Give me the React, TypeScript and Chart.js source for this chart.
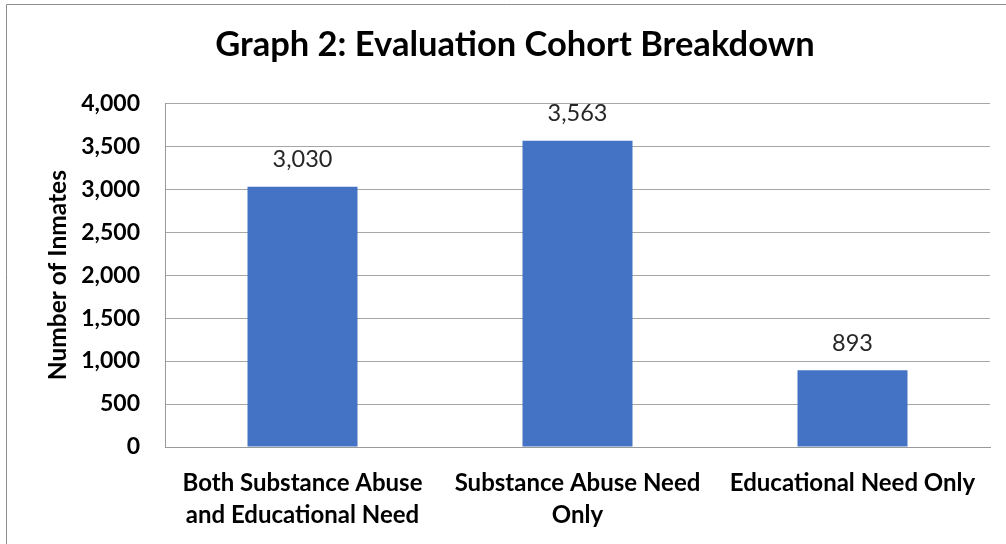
import React, { useEffect, useRef } from "react";
import { Chart, registerables } from "chart.js";

Chart.register(...registerables);

// Cohort categories (wrapped onto lines as shown under each bar)
const categories: string[][] = [
  ["Both Substance Abuse", "and Educational Need"],
  ["Substance Abuse Need", "Only"],
  ["Educational Need Only"],
];
// Number of inmates in each cohort
const inmates: number[] = [3030, 3563, 893];
// Value axis range
const yMin = 0;
const yMax = 4000;
const yStep = 500;

const titleText = "Graph 2: Evaluation Cohort Breakdown";
const yAxisTitle = "Number of Inmates";

const FONT = "Lato, 'Open Sans', sans-serif";
const fmt = (v: number) => v.toLocaleString("en-US");

// Thin grey frame around the chart object
const framePlugin = {
  id: "frame",
  beforeDraw(chart: any) {
    const { ctx, width, height } = chart;
    ctx.save();
    ctx.strokeStyle = "#8c8c8c";
    ctx.lineWidth = 1;
    ctx.beginPath();
    ctx.moveTo(6.5, height);
    ctx.lineTo(6.5, 4.5);
    ctx.lineTo(width, 4.5);
    ctx.stroke();
    ctx.restore();
  },
};

// Value labels above each bar
const valueLabelPlugin = {
  id: "valueLabels",
  afterDatasetsDraw(chart: any) {
    const { ctx } = chart;
    const meta = chart.getDatasetMeta(0);
    const data = chart.data.datasets[0].data as number[];
    ctx.save();
    ctx.font = `23.5px ${FONT}`;
    ctx.fillStyle = "#262626";
    ctx.textAlign = "center";
    ctx.textBaseline = "middle";
    meta.data.forEach((bar: any, i: number) => {
      ctx.fillText(fmt(data[i]), bar.x, bar.y - 27);
    });
    ctx.restore();
  },
};

export default function App() {
  const canvasRef = useRef<HTMLCanvasElement | null>(null);

  useEffect(() => {
    if (!canvasRef.current) return;
    const chart = new Chart(canvasRef.current, {
      type: "bar",
      data: {
        labels: categories,
        datasets: [
          {
            data: inmates,
            backgroundColor: "#4472C4",
            borderWidth: 0,
            categoryPercentage: 1,
            barPercentage: 0.4,
          },
        ],
      },
      options: {
        responsive: false,
        animation: false,
        layout: { padding: { left: 40, right: 16, top: 0, bottom: 0 } },
        plugins: {
          legend: { display: false },
          tooltip: { enabled: false },
          title: {
            display: true,
            text: titleText,
            color: "#000",
            font: { family: FONT, size: 34.5, weight: "bold", lineHeight: 1.2 },
            padding: { top: 24.3, bottom: 37.6 },
          },
        },
        scales: {
          x: {
            grid: { display: false, drawTicks: false },
            border: { display: true, color: "#999", width: 1 },
            ticks: {
              color: "#000",
              font: { family: FONT, size: 24, weight: "bold", lineHeight: 1.33 },
              padding: 20,
              maxRotation: 0,
              autoSkip: false,
            },
            afterFit(scale: any) {
              scale.height = 97;
            },
          },
          y: {
            min: yMin,
            max: yMax,
            grid: { color: "#a6a6a6", lineWidth: 1, drawTicks: false },
            border: { display: true, color: "#999", width: 1 },
            ticks: {
              stepSize: yStep,
              color: "#000",
              font: { family: FONT, size: 23, weight: "bold" },
              padding: 25,
              callback: (v: any) => fmt(Number(v)),
            },
            title: {
              display: true,
              text: yAxisTitle,
              color: "#000",
              font: { family: FONT, size: 24.5, weight: "bold", lineHeight: 1.2 },
              padding: { top: 3.5, bottom: 0 },
            },
            afterFit(scale: any) {
              scale.width = 125;
            },
          },
        },
      },
      plugins: [framePlugin, valueLabelPlugin],
    });
    return () => chart.destroy();
  }, []);

  return (
    <div style={{ position: "fixed", left: 0, top: 0, width: 1006, height: 544, background: "#fff" }}>
      <canvas ref={canvasRef} width={1006} height={544} />
    </div>
  );
}
